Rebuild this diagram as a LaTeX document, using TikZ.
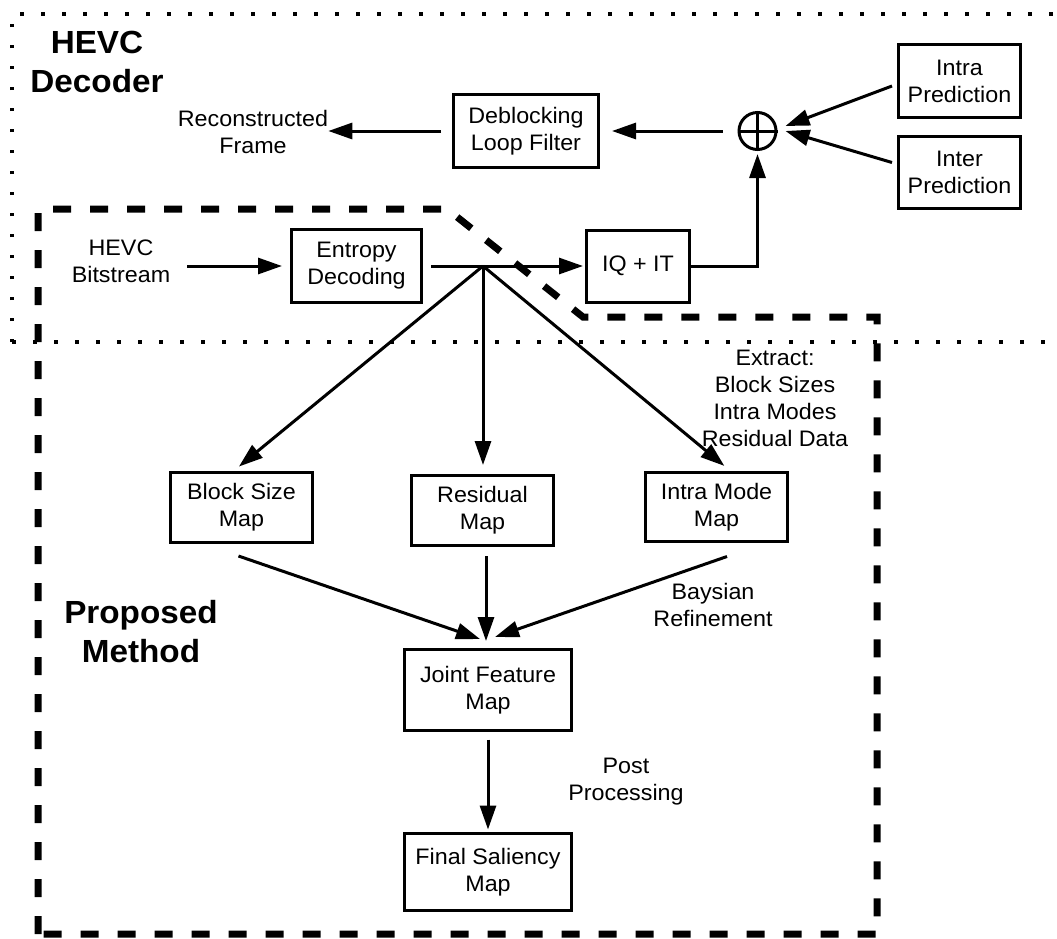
\documentclass[tikz,border=0pt]{standalone}
\usepackage{fontspec}
\setmainfont{Liberation Sans}[FakeStretch=1.04]
\usetikzlibrary{arrows.meta,calc}
\newcommand\bodyfont{\fontsize{22.4}{27}\selectfont}
\newcommand\titlefont{\fontsize{32}{39}\selectfont\bfseries}
\begin{document}
\begin{tikzpicture}[x=1pt,y=-1pt,
  blk/.style={draw, line width=3pt, inner sep=0pt, align=center, font=\bodyfont},
  lbl/.style={inner sep=0pt, align=center, font=\bodyfont, anchor=base},
  ttl/.style={inner sep=0pt, align=center, font=\titlefont, anchor=base},
  ln/.style={line width=3pt},
  arr/.style={line width=3pt, -{Triangle[length=24pt,width=16pt]}},
  dotline/.style={line width=3.5pt, dash pattern=on 3.5pt off 17.5pt},
  dashline/.style={line width=7pt, dash pattern=on 18pt off 19pt}]
\useasboundingbox (0,0) rectangle (1057,938);

% decoder region (dotted) and proposed-method region (dashed)
\draw[dotline] (12,342) -- (12,14) -- (1070,14);
\draw[dotline] (12,342) -- (1070,342);
\draw[dashline] (38,934) -- (38,209) -- (447,209) -- (583,317) -- (877,317) -- (877,934) -- cycle;

% titles (placed by the baseline of their last line)
\node[ttl] (tdec) at (97,92) {HEVC\\Decoder};
\node[ttl] (tprop) at (141,662) {Proposed\\Method};

% decoder blocks
\node[blk, minimum width=145pt, minimum height=73pt] (dbl) at (526,131) {Deblocking\\Loop Filter};
\node[blk, minimum width=122pt, minimum height=73pt] (intra) at (959.5,81) {Intra\\Prediction};
\node[blk, minimum width=122pt, minimum height=72pt] (inter) at (959.5,172.5) {Inter\\Prediction};
\node[blk, minimum width=130pt, minimum height=73pt] (ent) at (356.5,266) {Entropy\\Decoding};
\node[blk, minimum width=103pt, minimum height=72pt] (iq) at (638,266) {IQ + IT};
\node[draw, circle, line width=3pt, minimum size=37pt, inner sep=0pt] (sum) at (757.5,131) {};
\draw[ln] (sum.north) -- (sum.south) (sum.west) -- (sum.east);

% free labels
\node[lbl] (rec) at (253,153) {Reconstructed\\Frame};
\node[lbl] (bits) at (121,282) {HEVC\\Bitstream};
\node[lbl] (extr) at (775,446) {Extract:\\Block Sizes\\Intra Modes\\Residual Data};
\node[lbl] (bay) at (713,626) {Baysian\\Refinement};
\node[lbl] (post) at (626,800) {Post\\Processing};

% proposed-method blocks
\node[blk, minimum width=142pt, minimum height=70pt] (bsm) at (241.5,507.5) {Block Size\\Map};
\node[blk, minimum width=142pt, minimum height=70pt] (rsm) at (482.5,510.5) {Residual\\Map};
\node[blk, minimum width=142pt, minimum height=69pt] (imm) at (716.5,507) {Intra Mode\\Map};
\node[blk, minimum width=167pt, minimum height=81pt] (jfm) at (488,690) {Joint Feature\\Map};
\node[blk, minimum width=167pt, minimum height=77pt] (fsm) at (488,872) {Final Saliency\\Map};

% decoder connections
\draw[arr, shorten <=15pt, shorten >=12pt] (sum.west) -- (dbl.east);
\draw[arr, shorten <=11pt] (dbl.west) -- (dbl.west -| rec.east);
\draw[arr] ($(intra.west)+(-5,5)$) -- ($(sum.east)+(8,-5)$);
\draw[arr] ($(inter.west)+(-5,-10)$) -- ($(sum.east)+(8,0)$);
\draw[arr, shorten >=3pt] (iq.east) -| (sum.south);
\draw[arr, shorten <=17pt, shorten >=8pt] (ent.west -| bits.east) -- (ent.west);
\draw[arr, shorten <=8pt, shorten >=2pt] (ent.east) -- (iq.west);

% branching of the decoded syntax
\coordinate (J) at (483,266);
\draw[arr, shorten >=7pt] (J) -- ($(bsm.north)+(-8,0)$);
\draw[arr, shorten >=9pt] (J) -- (J |- rsm.north);
\draw[arr, shorten >=8pt] (J) -- ($(imm.north)+(14,0)$);

% fusion into the joint map
\coordinate (jin) at ($(jfm.north)+(-2,-7)$);
\draw[arr] ($(bsm.south)+(-3,12)$) -- ($(jfm.north)+(-8,-9)$);
\draw[arr, shorten <=9pt] (jin |- rsm.south) -- (jin);
\draw[arr] ($(imm.south)+(10.5,13.5)$) -- ($(jfm.north)+(7,-11)$);
\draw[arr, shorten <=7.5pt, shorten >=2.5pt] (jfm.south) -- (fsm.north);
\end{tikzpicture}
\end{document}
